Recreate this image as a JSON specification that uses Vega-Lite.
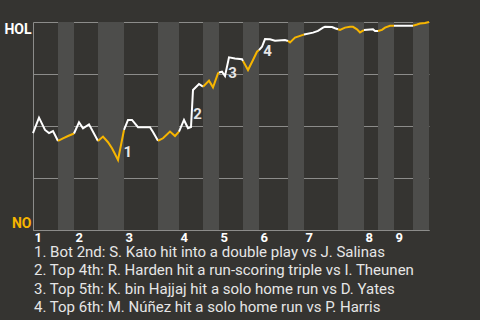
{
  "$schema": "https://vega.github.io/schema/vega-lite/v6.json",
  "width": 396,
  "height": 208,
  "autosize": {"type": "none"},
  "padding": {"left": 33, "top": 22, "right": 51, "bottom": 90},
  "background": "#353431",
  "config": {"view": {"stroke": null}},
  "title": {
    "text": [
      "1. Bot 2nd: S. Kato hit into a double play vs J. Salinas",
      "2. Top 4th: R. Harden hit a run-scoring triple vs I. Theunen",
      "3. Top 5th: K. bin Hajjaj hit a solo home run vs D. Yates",
      "4. Top 6th: M. Núñez hit a solo home run vs P. Harris"
    ],
    "orient": "bottom",
    "anchor": "start",
    "frame": "group",
    "dx": 1,
    "offset": 1,
    "font": "Roboto",
    "fontSize": 15,
    "fontWeight": "normal",
    "color": "#e6e6e6",
    "lineHeight": 18.3,
    "baseline": "top"
  },
  "datasets": {
    "bands": [
      {"x": 25, "x2": 41}, {"x": 65, "x2": 91}, {"x": 125, "x2": 146},
      {"x": 170, "x2": 186}, {"x": 210, "x2": 226}, {"x": 255, "x2": 271},
      {"x": 305, "x2": 331}, {"x": 345, "x2": 361}, {"x": 380, "x2": 396}
    ],
    "wp": [
      {"seg": 1, "half": "top", "x": 0, "wp": 0.466},
      {"seg": 1, "half": "top", "x": 6, "wp": 0.54},
      {"seg": 1, "half": "top", "x": 12, "wp": 0.481},
      {"seg": 1, "half": "top", "x": 16, "wp": 0.466},
      {"seg": 1, "half": "top", "x": 20, "wp": 0.476},
      {"seg": 1, "half": "top", "x": 25, "wp": 0.428},
      {"seg": 2, "half": "bottom", "x": 25, "wp": 0.428},
      {"seg": 2, "half": "bottom", "x": 30, "wp": 0.441},
      {"seg": 2, "half": "bottom", "x": 35, "wp": 0.452},
      {"seg": 2, "half": "bottom", "x": 41, "wp": 0.464},
      {"seg": 3, "half": "top", "x": 41, "wp": 0.464},
      {"seg": 3, "half": "top", "x": 46, "wp": 0.518},
      {"seg": 3, "half": "top", "x": 50, "wp": 0.489},
      {"seg": 3, "half": "top", "x": 56, "wp": 0.508},
      {"seg": 3, "half": "top", "x": 65, "wp": 0.428},
      {"seg": 4, "half": "bottom", "x": 65, "wp": 0.428},
      {"seg": 4, "half": "bottom", "x": 70, "wp": 0.449},
      {"seg": 4, "half": "bottom", "x": 75, "wp": 0.422},
      {"seg": 4, "half": "bottom", "x": 79, "wp": 0.393},
      {"seg": 4, "half": "bottom", "x": 82, "wp": 0.365},
      {"seg": 4, "half": "bottom", "x": 85, "wp": 0.337},
      {"seg": 4, "half": "bottom", "x": 90, "wp": 0.457},
      {"seg": 4, "half": "bottom", "x": 91, "wp": 0.481},
      {"seg": 5, "half": "top", "x": 91, "wp": 0.481},
      {"seg": 5, "half": "top", "x": 95, "wp": 0.529},
      {"seg": 5, "half": "top", "x": 99, "wp": 0.529},
      {"seg": 5, "half": "top", "x": 105, "wp": 0.494},
      {"seg": 5, "half": "top", "x": 117, "wp": 0.494},
      {"seg": 5, "half": "top", "x": 120, "wp": 0.471},
      {"seg": 5, "half": "top", "x": 125, "wp": 0.429},
      {"seg": 6, "half": "bottom", "x": 125, "wp": 0.429},
      {"seg": 6, "half": "bottom", "x": 130, "wp": 0.441},
      {"seg": 6, "half": "bottom", "x": 137, "wp": 0.473},
      {"seg": 6, "half": "bottom", "x": 142, "wp": 0.452},
      {"seg": 6, "half": "bottom", "x": 146, "wp": 0.473},
      {"seg": 7, "half": "top", "x": 146, "wp": 0.473},
      {"seg": 7, "half": "top", "x": 151, "wp": 0.529},
      {"seg": 7, "half": "top", "x": 155, "wp": 0.489},
      {"seg": 7, "half": "top", "x": 158, "wp": 0.495},
      {"seg": 7, "half": "top", "x": 160, "wp": 0.673},
      {"seg": 7, "half": "top", "x": 166, "wp": 0.702},
      {"seg": 7, "half": "top", "x": 170, "wp": 0.689},
      {"seg": 8, "half": "bottom", "x": 170, "wp": 0.689},
      {"seg": 8, "half": "bottom", "x": 176, "wp": 0.718},
      {"seg": 8, "half": "bottom", "x": 180, "wp": 0.686},
      {"seg": 8, "half": "bottom", "x": 185, "wp": 0.753},
      {"seg": 8, "half": "bottom", "x": 186, "wp": 0.757},
      {"seg": 9, "half": "top", "x": 186, "wp": 0.757},
      {"seg": 9, "half": "top", "x": 189, "wp": 0.761},
      {"seg": 9, "half": "top", "x": 192, "wp": 0.74},
      {"seg": 9, "half": "top", "x": 196, "wp": 0.83},
      {"seg": 9, "half": "top", "x": 202, "wp": 0.825},
      {"seg": 9, "half": "top", "x": 209, "wp": 0.821},
      {"seg": 9, "half": "top", "x": 210, "wp": 0.812},
      {"seg": 10, "half": "bottom", "x": 210, "wp": 0.812},
      {"seg": 10, "half": "bottom", "x": 215, "wp": 0.769},
      {"seg": 10, "half": "bottom", "x": 220, "wp": 0.817},
      {"seg": 10, "half": "bottom", "x": 224, "wp": 0.857},
      {"seg": 10, "half": "bottom", "x": 226, "wp": 0.865},
      {"seg": 11, "half": "top", "x": 226, "wp": 0.865},
      {"seg": 11, "half": "top", "x": 229, "wp": 0.881},
      {"seg": 11, "half": "top", "x": 232, "wp": 0.918},
      {"seg": 11, "half": "top", "x": 237, "wp": 0.917},
      {"seg": 11, "half": "top", "x": 242, "wp": 0.91},
      {"seg": 11, "half": "top", "x": 252, "wp": 0.913},
      {"seg": 11, "half": "top", "x": 255, "wp": 0.909},
      {"seg": 12, "half": "bottom", "x": 255, "wp": 0.909},
      {"seg": 12, "half": "bottom", "x": 257, "wp": 0.902},
      {"seg": 12, "half": "bottom", "x": 262, "wp": 0.925},
      {"seg": 12, "half": "bottom", "x": 270, "wp": 0.938},
      {"seg": 12, "half": "bottom", "x": 271, "wp": 0.94},
      {"seg": 13, "half": "top", "x": 271, "wp": 0.94},
      {"seg": 13, "half": "top", "x": 280, "wp": 0.949},
      {"seg": 13, "half": "top", "x": 285, "wp": 0.957},
      {"seg": 13, "half": "top", "x": 290, "wp": 0.973},
      {"seg": 13, "half": "top", "x": 292, "wp": 0.977},
      {"seg": 13, "half": "top", "x": 299, "wp": 0.976},
      {"seg": 13, "half": "top", "x": 302, "wp": 0.97},
      {"seg": 13, "half": "top", "x": 305, "wp": 0.965},
      {"seg": 14, "half": "bottom", "x": 305, "wp": 0.965},
      {"seg": 14, "half": "bottom", "x": 307, "wp": 0.962},
      {"seg": 14, "half": "bottom", "x": 312, "wp": 0.973},
      {"seg": 14, "half": "bottom", "x": 317, "wp": 0.977},
      {"seg": 14, "half": "bottom", "x": 320, "wp": 0.977},
      {"seg": 14, "half": "bottom", "x": 324, "wp": 0.965},
      {"seg": 14, "half": "bottom", "x": 327, "wp": 0.95},
      {"seg": 14, "half": "bottom", "x": 330, "wp": 0.958},
      {"seg": 14, "half": "bottom", "x": 331, "wp": 0.962},
      {"seg": 15, "half": "top", "x": 331, "wp": 0.962},
      {"seg": 15, "half": "top", "x": 340, "wp": 0.965},
      {"seg": 15, "half": "top", "x": 342, "wp": 0.957},
      {"seg": 15, "half": "top", "x": 345, "wp": 0.957},
      {"seg": 16, "half": "bottom", "x": 345, "wp": 0.957},
      {"seg": 16, "half": "bottom", "x": 349, "wp": 0.962},
      {"seg": 16, "half": "bottom", "x": 352, "wp": 0.973},
      {"seg": 16, "half": "bottom", "x": 357, "wp": 0.982},
      {"seg": 16, "half": "bottom", "x": 361, "wp": 0.982},
      {"seg": 17, "half": "top", "x": 361, "wp": 0.982},
      {"seg": 17, "half": "top", "x": 380, "wp": 0.982},
      {"seg": 18, "half": "bottom", "x": 380, "wp": 0.982},
      {"seg": 18, "half": "bottom", "x": 384, "wp": 0.988},
      {"seg": 18, "half": "bottom", "x": 387, "wp": 0.993},
      {"seg": 18, "half": "bottom", "x": 392, "wp": 0.995},
      {"seg": 18, "half": "bottom", "x": 396, "wp": 1.0}
    ],
    "events": [
      {"x": 90.5, "wp": 0.41, "label": "1"},
      {"x": 160.3, "wp": 0.59, "label": "2"},
      {"x": 195.3, "wp": 0.787, "label": "3"},
      {"x": 230.3, "wp": 0.896, "label": "4"}
    ]
  },
  "layer": [
    {
      "data": {"name": "bands"},
      "mark": {"type": "rect", "color": "#4d4d4b"},
      "encoding": {
        "x": {
          "field": "x", "type": "quantitative",
          "scale": {"domain": [0, 396], "nice": false, "zero": false},
          "axis": {
            "values": [0, 41, 91, 146, 186, 226, 271, 331, 361],
            "labelExpr": "'' + (indexof([0, 41, 91, 146, 186, 226, 271, 331, 361], datum.value) + 1)",
            "title": null,
            "grid": false,
            "ticks": false,
            "domain": true,
            "domainColor": "#8c8c8a",
            "domainWidth": 1,
            "labelAlign": "left",
            "labelBaseline": "top",
            "labelFlush": false,
            "labelOverlap": false,
            "labelBound": false,
            "labelPadding": 1,
            "labelOffset": 1,
            "labelColor": "#ffffff",
            "labelFont": "Roboto",
            "labelFontWeight": "bold",
            "labelFontSize": 13
          }
        },
        "x2": {"field": "x2"}
      }
    },
    {
      "data": {"name": "wp"},
      "mark": {"type": "line", "strokeWidth": 2},
      "encoding": {
        "x": {"field": "x", "type": "quantitative"},
        "y": {
          "field": "wp", "type": "quantitative",
          "scale": {"domain": [0, 1], "nice": false},
          "axis": {
            "values": [0, 0.25, 0.5, 0.75, 1],
            "labelExpr": "datum.value == 1 ? 'HOL' : (datum.value == 0 ? 'NO' : '')",
            "title": null,
            "grid": true,
            "gridColor": "#8c8c8a",
            "gridWidth": 1,
            "ticks": false,
            "domain": true,
            "domainColor": "#8c8c8a",
            "labelFlush": true,
            "labelPadding": 2,
            "labelFont": "Roboto",
            "labelFontWeight": "bold",
            "labelFontSize": 14,
            "labelColor": {"condition": {"test": "datum.value == 0", "value": "#f7b500"}, "value": "#ffffff"}
          }
        },
        "detail": {"field": "seg", "type": "nominal"},
        "color": {
          "field": "half", "type": "nominal",
          "scale": {"domain": ["top", "bottom"], "range": ["#ffffff", "#f7b500"]},
          "legend": null
        }
      }
    },
    {
      "data": {"name": "events"},
      "mark": {"type": "text", "align": "left", "baseline": "top", "font": "Roboto", "fontWeight": "bold", "fontSize": 15, "color": "#e6e6e6"},
      "encoding": {
        "x": {"field": "x", "type": "quantitative"},
        "y": {"field": "wp", "type": "quantitative"},
        "text": {"field": "label"}
      }
    }
  ]
}
